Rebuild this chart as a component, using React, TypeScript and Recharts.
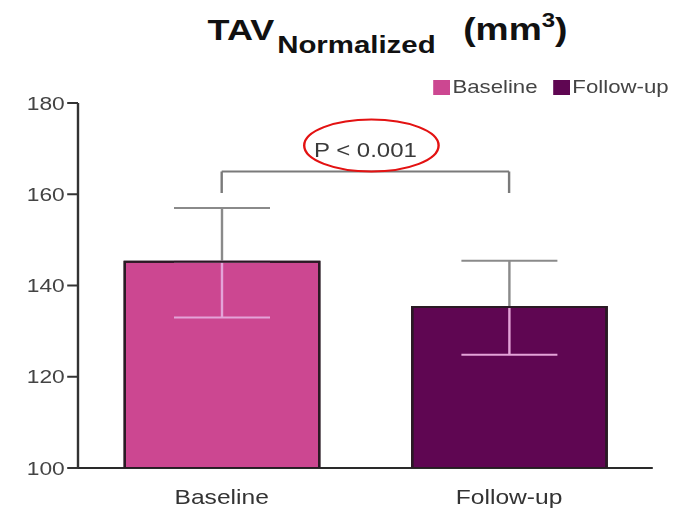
import React from 'react';
import {
  BarChart,
  Bar,
  Cell,
  XAxis,
  YAxis,
  ErrorBar,
  ReferenceLine,
} from 'recharts';

// TAV normalized — baseline vs follow-up, mean ± SD with significance bracket

const categories = ['Baseline', 'Follow-up'];
const means = [145.2, 135.3];
const errLow = [12.2, 10.5];
const errHigh = [11.8, 10.1];
const colors = ['#cc4791', '#5f0652'];
const yTicks = [100, 120, 140, 160, 180];
const pLabel = 'P < 0.001';
const bracketTop = 165;
const bracketEnd = 160.3;

const rows = categories.map((name, i) => ({
  name,
  mean: means[i],
  up: [0, errHigh[i]],
  lo: [errLow[i], 0],
}));

// the original image is stretched sideways, so draw narrow and scale
const STRETCH = 1.2;
const W = 568;
const H = 510;
const FONT = '"Liberation Sans", Arial, sans-serif';

const PLabel = (props: any) => {
  const vb = props.viewBox || {};
  const cx = vb.x + vb.width / 2;
  const cy = vb.y;
  return (
    <g>
      <text x={cx} y={cy - 14} textAnchor="middle" fontSize={20} fill="#3a3a3a">
        {pLabel}
      </text>
      <ellipse cx={cx + 5} cy={cy - 26} rx={56} ry={26} fill="none" stroke="#e31212" strokeWidth={2} />
    </g>
  );
};

export default function App() {
  return (
    <div
      style={{
        position: 'absolute',
        left: 0,
        top: 0,
        width: W,
        height: H,
        transform: `scaleX(${STRETCH})`,
        transformOrigin: '0 0',
        fontFamily: FONT,
        background: '#fff',
      }}
    >
      <svg width={W} height={100} style={{ position: 'absolute', left: 0, top: 0 }}>
        <text x={173} y={40} fontSize={30} fontWeight="bold" fill="#111">TAV</text>
        <text x={231} y={53} fontSize={24.5} fontWeight="bold" fill="#111">Normalized</text>
        <text x={386} y={40} fontSize={31} fontWeight="bold" fill="#111">
          (mm<tspan dy={-13} fontSize={20}>3</tspan><tspan dy={13}>)</tspan>
        </text>
      </svg>

      <div
        style={{
          position: 'absolute',
          left: 361,
          top: 76,
          display: 'flex',
          alignItems: 'center',
          whiteSpace: 'nowrap',
          fontSize: 18.5,
          color: '#444',
        }}
      >
        {categories.map((c, i) => (
          <div key={c} style={{ display: 'flex', alignItems: 'center', marginRight: 13 }}>
            <span style={{ width: 14, height: 15, background: colors[i], marginRight: 2 }} />
            <span>{c}</span>
          </div>
        ))}
      </div>

      <BarChart
        width={W}
        height={H}
        data={rows}
        margin={{ top: 103, right: 24, left: 5, bottom: 12 }}
        style={{ position: 'absolute', left: 0, top: 0 }}
      >
        <XAxis
          xAxisId="main"
          dataKey="name"
          height={30}
          tickLine={false}
          tickSize={0}
          tickMargin={21}
          axisLine={{ stroke: '#2a2a2a', strokeWidth: 2 }}
          tick={{ fontSize: 20.5, fill: '#333' }}
        />
        <XAxis xAxisId="under" dataKey="name" hide />
        <XAxis xAxisId="over" dataKey="name" hide />
        <YAxis
          domain={[100, 180]}
          ticks={yTicks}
          width={60}
          tickSize={9}
          tickMargin={2}
          allowDataOverflow
          axisLine={{ stroke: '#333', strokeWidth: 2 }}
          tickLine={{ stroke: '#333', strokeWidth: 2 }}
          tick={{ fontSize: 19, fill: '#444' }}
        />

        {/* gray upper whisker */}
        <Bar xAxisId="under" dataKey="mean" barSize={162} fill="transparent" isAnimationActive={false}>
          <ErrorBar dataKey="up" width={40} stroke="#8a8a8a" strokeWidth={2} />
        </Bar>

        <Bar xAxisId="main" dataKey="mean" barSize={162} stroke="#2a1a24" strokeWidth={2} isAnimationActive={false}>
          {rows.map((r, i) => (
            <Cell key={r.name} fill={colors[i]} />
          ))}
          <ErrorBar dataKey="lo" width={40} stroke="#e3a3d8" strokeWidth={2} />
        </Bar>

        {/* redraw bar outlines above the whisker caps */}
        <Bar
          xAxisId="over"
          dataKey="mean"
          barSize={162}
          fill="none"
          stroke="#2a1a24"
          strokeWidth={2}
          isAnimationActive={false}
          {...({ zIndex: 1500 } as any)}
        />

        <ReferenceLine
          xAxisId="main"
          segment={[{ x: categories[0], y: bracketTop }, { x: categories[1], y: bracketTop }]}
          stroke="#7a7a7a"
          strokeWidth={2}
          label={<PLabel />}
        />
        <ReferenceLine
          xAxisId="main"
          segment={[{ x: categories[0], y: bracketTop }, { x: categories[0], y: bracketEnd }]}
          stroke="#7a7a7a"
          strokeWidth={2}
        />
        <ReferenceLine
          xAxisId="main"
          segment={[{ x: categories[1], y: bracketTop }, { x: categories[1], y: bracketEnd }]}
          stroke="#7a7a7a"
          strokeWidth={2}
        />
      </BarChart>
    </div>
  );
}
